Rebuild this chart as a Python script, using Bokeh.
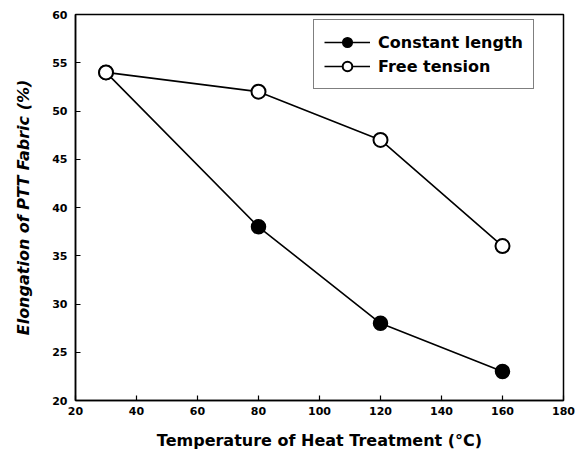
from bokeh.plotting import figure
from bokeh.models import Legend, LegendItem, Range1d, FixedTicker
from bokeh.embed import file_html
from bokeh.resources import INLINE

temperature = [30, 80, 120, 160]
constant_length = [54, 38, 28, 23]
free_tension = [54, 52, 47, 36]
x_ticks = [20, 40, 60, 80, 100, 120, 140, 160, 180]
y_ticks = [20, 25, 30, 35, 40, 45, 50, 55, 60]

FONT = "DejaVu Sans"

p = figure(width=576, height=462, output_backend="svg", toolbar_location=None,
           x_range=Range1d(20, 180), y_range=Range1d(20, 60),
           min_border_left=75, min_border_right=13, min_border_top=14, min_border_bottom=62)
p.background_fill_color = "white"
p.border_fill_color = "white"
p.grid.visible = False
p.outline_line_color = "black"
p.outline_line_width = 1.5

for ax in (p.xaxis[0], p.yaxis[0]):
    ax.major_tick_in = 5
    ax.major_tick_out = 0
    ax.minor_tick_in = 0
    ax.minor_tick_out = 0
    ax.axis_line_color = "black"
    ax.axis_line_width = 1.5
    ax.major_tick_line_width = 1.2
    ax.major_label_text_font = FONT
    ax.major_label_text_font_style = "bold"
    ax.major_label_text_font_size = "11px"
    ax.major_label_text_color = "black"
    ax.axis_label_text_font = FONT
    ax.axis_label_text_color = "black"

p.xaxis.ticker = FixedTicker(ticks=x_ticks)
p.yaxis.ticker = FixedTicker(ticks=y_ticks)
p.xaxis.major_label_standoff = 6
p.yaxis.major_label_standoff = 8
p.xaxis.axis_label = "Temperature of Heat Treatment (\u00b0C)"
p.xaxis.axis_label_text_font_size = "16px"
p.xaxis.axis_label_text_font_style = "bold"
p.xaxis.axis_label_standoff = 13
p.yaxis.axis_label = "Elongation of PTT Fabric (%)"
p.yaxis.axis_label_text_font_size = "16px"
p.yaxis.axis_label_text_font_style = "bold italic"
p.yaxis.axis_label_standoff = 16

l1 = p.line(temperature, constant_length, line_color="black", line_width=1.6)
c1 = p.scatter(temperature, constant_length, size=14, fill_color="black", line_color="black", line_width=1.5)
l2 = p.line(temperature, free_tension, line_color="black", line_width=1.6)
c2 = p.scatter(temperature, free_tension, size=14, fill_color="white", line_color="black", line_width=2)

legend = Legend(items=[LegendItem(label="Constant length", renderers=[l1, c1]),
                       LegendItem(label="Free tension", renderers=[l2, c2])],
                location=(238, 311))
legend.label_text_font = FONT
legend.label_text_font_style = "bold"
legend.label_text_font_size = "16px"
legend.label_text_color = "black"
legend.glyph_width = 46
legend.glyph_height = 24
legend.label_height = 22
legend.label_standoff = 8
legend.spacing = -2
legend.padding = 10
legend.margin = 0
legend.border_line_color = "black"
legend.border_line_width = 1.2
legend.background_fill_alpha = 1
p.add_layout(legend, "center")

open("out.html", "w").write(file_html(p, INLINE))
